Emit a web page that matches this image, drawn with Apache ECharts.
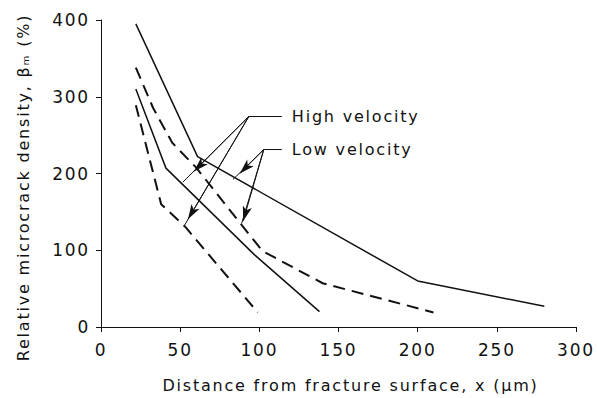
<!DOCTYPE html>
<html>
<head>
<meta charset="utf-8">
<script src="https://cdn.jsdelivr.net/npm/echarts@6/dist/echarts.min.js"></script>
<style>
html,body{margin:0;padding:0;background:#fff}
#c{width:597px;height:398px}
#c svg text{letter-spacing:1.8px}
</style>
</head>
<body>
<div id="c"></div>
<script>
// Data (x in µm, y in %)
var lowSolidX = [22, 61, 200, 280];
var lowSolidY = [395, 222, 60, 27];
var lowDashX = [22, 33, 45, 60, 88, 102, 140, 210];
var lowDashY = [338, 285, 240, 208, 135, 99, 57, 19];
var highSolidX = [22, 41, 97, 138];
var highSolidY = [310, 207, 94, 20];
var highDashX = [22, 38, 53, 99];
var highDashY = [289, 160, 131, 19];

var xTicks = [0, 50, 100, 150, 200, 250, 300];
var yTicks = [0, 100, 200, 300, 400];

// Annotation leaders (data coordinates): label anchor, arrow tip, end
var highAnchor = [93.4, 274.4], highLabelEnd = [114.2, 274.4];
var lowAnchor = [102.8, 231.2], lowLabelEnd = [114.2, 231.2];
var highArrows = [
  {tip: [58.7, 202.6], end: [51.7, 188.7]},
  {tip: [54.9, 140.3], end: [52.4, 131.2]}
];
var lowArrows = [
  {tip: [87.7, 200.0], end: [83.3, 192.2]},
  {tip: [89.8, 138.0], end: [88.8, 134.7]}
];

function pairs(xs, ys) { return xs.map(function (x, i) { return [x, ys[i]]; }); }

var FONT = 'DejaVu Sans';
var annot = [];
function addLeader(anchor, labelEnd, text, arrows) {
  annot.push([{coord: anchor, symbol: 'none'},
              {coord: labelEnd, symbol: 'none',
               label: {show: true, position: 'end', formatter: text, distance: 10,
                       fontFamily: FONT, fontSize: 16, color: '#111'}}]);
  arrows.forEach(function (a) {
    annot.push([{coord: anchor, symbol: 'none'}, {coord: a.end, symbol: 'none'}]);
    annot.push([{coord: anchor, symbol: 'none'}, {coord: a.tip, symbol: 'arrow', symbolSize: [7, 15]}]);
  });
}
addLeader(highAnchor, highLabelEnd, 'High velocity', highArrows);
addLeader(lowAnchor, lowLabelEnd, 'Low velocity', lowArrows);

function lineSeries(name, xs, ys, dashed) {
  return {
    name: name, type: 'line', data: pairs(xs, ys), symbol: 'none', silent: true,
    lineStyle: {color: '#111', width: dashed ? 2 : 1.5, type: dashed ? [12, 7] : 'solid'}
  };
}

var chart = echarts.init(document.getElementById('c'), null, {renderer: 'svg'});
chart.setOption({
  animation: false,
  backgroundColor: '#fff',
  grid: {left: 101, right: 21, top: 20, bottom: 70},
  xAxis: {
    type: 'value', min: 0, max: 300, interval: 50,
    name: 'Distance from fracture surface, x (\u03bcm)',
    nameLocation: 'middle', nameGap: 50,
    nameTextStyle: {fontFamily: FONT, fontSize: 16, color: '#111', padding: [0, 0, 0, 24]},
    axisLine: {lineStyle: {color: '#111', width: 1}},
    axisTick: {length: 5, lineStyle: {color: '#111'}},
    axisLabel: {margin: 14, fontFamily: FONT, fontSize: 17, color: '#111',
                formatter: function (v) { return xTicks.indexOf(v) >= 0 ? String(v) : ''; }},
    splitLine: {show: false}
  },
  yAxis: {
    type: 'value', min: 0, max: 400, interval: 100,
    name: 'Relative microcrack density, \u03b2\u2098 (%)',
    nameLocation: 'middle', nameGap: 70, nameRotate: 90,
    nameTextStyle: {fontFamily: FONT, fontSize: 16, color: '#111', padding: [0, 28, 0, 0]},
    axisLine: {show: true, lineStyle: {color: '#111', width: 1}},
    axisTick: {show: true, length: 5, lineStyle: {color: '#111'}},
    axisLabel: {margin: 11, fontFamily: FONT, fontSize: 17, color: '#111',
                formatter: function (v) { return yTicks.indexOf(v) >= 0 ? String(v) : ''; }},
    splitLine: {show: false}
  },
  series: [
    lineSeries('Low velocity (solid)', lowSolidX, lowSolidY, false),
    lineSeries('Low velocity (dashed)', lowDashX, lowDashY, true),
    lineSeries('High velocity (solid)', highSolidX, highSolidY, false),
    lineSeries('High velocity (dashed)', highDashX, highDashY, true),
    {
      name: 'annotations', type: 'line', data: [], silent: true,
      markLine: {
        silent: true, animation: false, symbol: 'none',
        lineStyle: {color: '#111', width: 1, type: 'solid'},
        label: {show: false},
        emphasis: {disabled: true},
        data: annot
      }
    }
  ]
});
</script>
</body>
</html>
